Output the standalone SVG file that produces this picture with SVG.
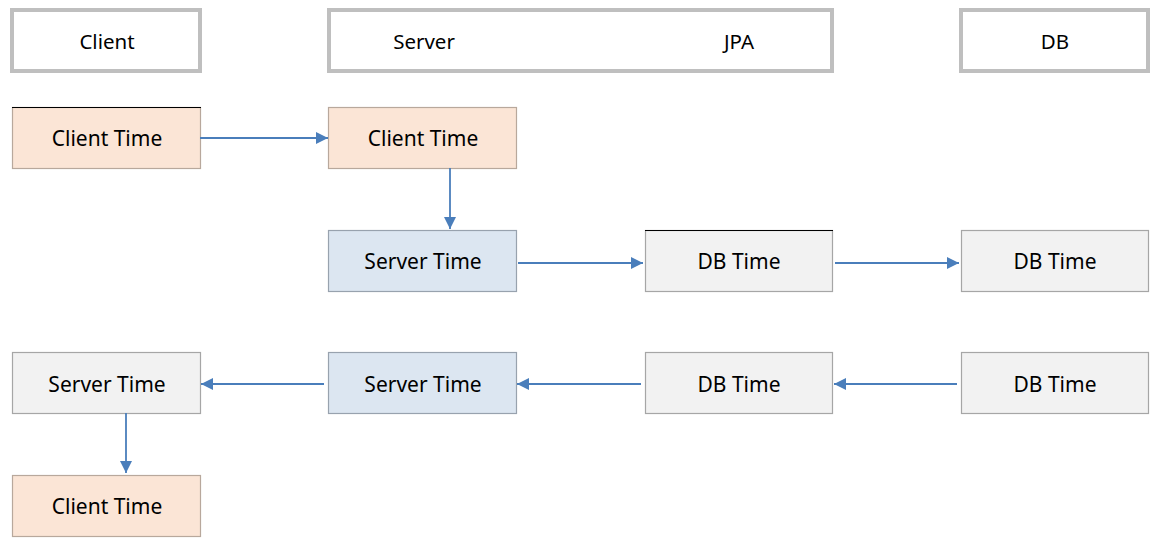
<svg xmlns="http://www.w3.org/2000/svg" width="1163" height="548" viewBox="0 0 1163 548">
<defs>
<style>
.hdr{fill:#fff;stroke:#bfbfbf;stroke-width:4}
.n{stroke-width:1.2}
.peach{fill:#fbe5d6;stroke:#b8a89c}
.blue{fill:#dce6f1;stroke:#98a2ae}
.gray{fill:#f2f2f2;stroke:#a6a6a6}
text{font-family:"Noto Sans","Open Sans","Liberation Sans",sans-serif;fill:#000;text-anchor:middle;dominant-baseline:central}
.ht{font-size:20.5px}
.nt{font-size:21px}
.c{stroke:#4a7ebb;stroke-width:1.8;fill:none;marker-end:url(#ah)}
</style>
<marker id="ah" viewBox="0 0 10 10" refX="10" refY="5" markerWidth="12" markerHeight="12" markerUnits="userSpaceOnUse" orient="auto">
<path d="M0,0 L10,5 L0,10 z" fill="#4a7ebb"/>
</marker>
</defs>
<g id="hdr-client"><rect class="hdr" x="12" y="10" width="188" height="61"/><text class="ht" x="107" y="41">Client</text></g>
<g id="hdr-server"><rect class="hdr" x="329" y="10" width="503" height="61"/><text class="ht" x="424" y="41">Server</text><text class="ht" x="739" y="41">JPA</text></g>
<g id="hdr-db"><rect class="hdr" x="961" y="10" width="187" height="61"/><text class="ht" x="1055" y="41">DB</text></g>

<g id="n1"><rect class="n peach" x="12.5" y="107.5" width="188" height="61"/><line x1="12" y1="107.5" x2="201" y2="107.5" stroke="#000" stroke-width="1"/><text class="nt" x="107" y="138">Client Time</text></g>
<g id="n2"><rect class="n peach" x="328.5" y="107.5" width="188" height="61"/><text class="nt" x="423" y="138">Client Time</text></g>
<g id="n3"><rect class="n blue" x="328.5" y="230.5" width="188" height="61"/><text class="nt" x="423" y="261">Server Time</text></g>
<g id="n4"><rect class="n gray" x="645.5" y="230.5" width="187" height="61"/><line x1="645" y1="230.5" x2="833" y2="230.5" stroke="#000" stroke-width="1"/><text class="nt" x="739" y="261">DB Time</text></g>
<g id="n5"><rect class="n gray" x="961.5" y="230.5" width="187" height="61"/><text class="nt" x="1055" y="261">DB Time</text></g>
<g id="n6"><rect class="n gray" x="12.5" y="352.5" width="188" height="61"/><text class="nt" x="107" y="384">Server Time</text></g>
<g id="n7"><rect class="n blue" x="328.5" y="352.5" width="188" height="61"/><text class="nt" x="423" y="384">Server Time</text></g>
<g id="n8"><rect class="n gray" x="645.5" y="352.5" width="187" height="61"/><text class="nt" x="739" y="384">DB Time</text></g>
<g id="n9"><rect class="n gray" x="961.5" y="352.5" width="187" height="61"/><text class="nt" x="1055" y="384">DB Time</text></g>
<g id="n10"><rect class="n peach" x="12.5" y="475.5" width="188" height="61"/><text class="nt" x="107" y="506">Client Time</text></g>

<g id="connectors">
<line class="c" x1="200" y1="138" x2="328" y2="138"/>
<line class="c" x1="450" y1="168" x2="450" y2="229"/>
<line class="c" x1="518" y1="263" x2="643" y2="263"/>
<line class="c" x1="835" y1="263" x2="959" y2="263"/>
<line class="c" x1="957" y1="384" x2="834" y2="384"/>
<line class="c" x1="641" y1="384" x2="517" y2="384"/>
<line class="c" x1="324" y1="384" x2="201" y2="384"/>
<line class="c" x1="126" y1="413" x2="126" y2="473"/>
</g>
</svg>
